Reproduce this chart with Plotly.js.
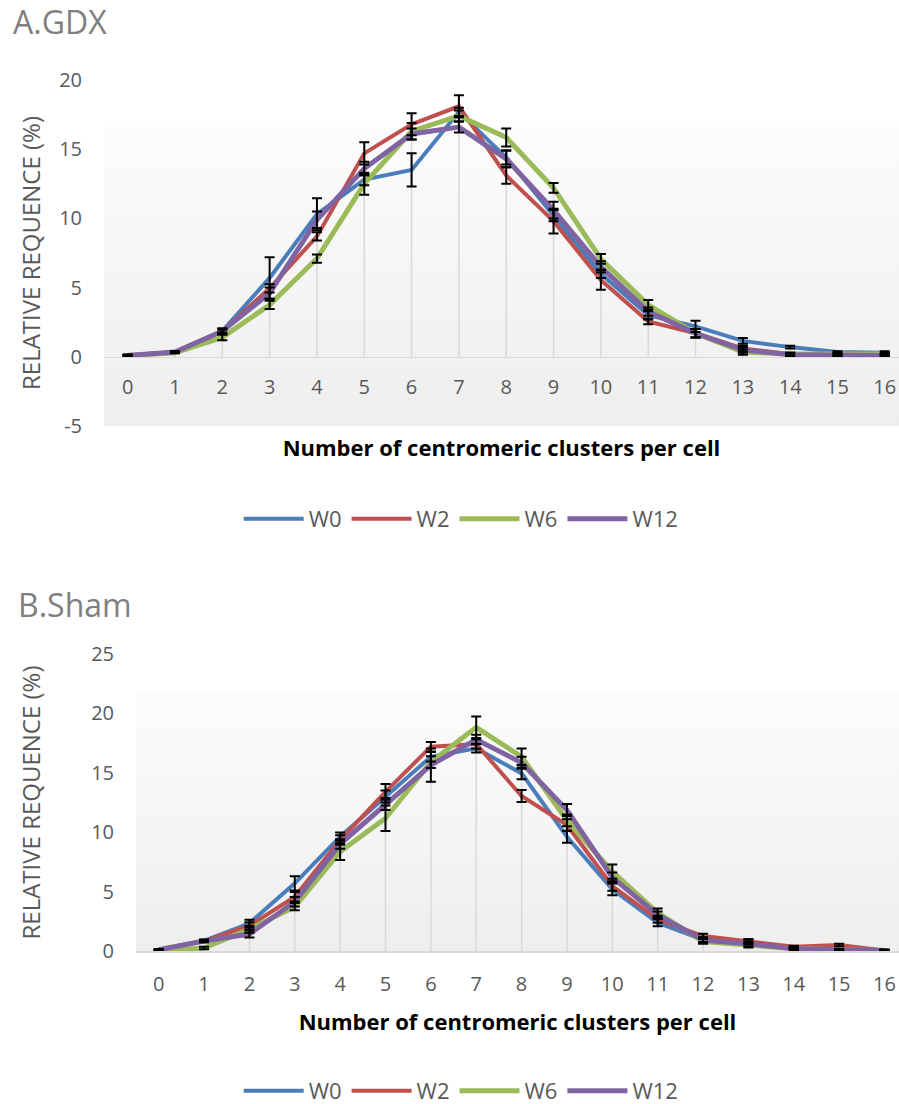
<!DOCTYPE html>
<html>
<head>
<meta charset="utf-8">
<script src="https://cdn.plot.ly/plotly-3.0.1.min.js"></script>
<style>
html,body{margin:0;padding:0;background:#fff;}
#a,#b{width:899px;height:552px;}
</style>
</head>
<body>
<div id="a"></div>
<div id="b"></div>
<script>
// ---------- data ----------
const categories = [0,1,2,3,4,5,6,7,8,9,10,11,12,13,14,15,16];
const seriesNames = ["W0","W2","W6","W12"];
const gdxYTicks  = [-5,0,5,10,15,20];
const gdxYLabels = ["-5","0","5","10","15","20"];
const shamYTicks  = [0,5,10,15,20,25];
const shamYLabels = ["0","5","10","15","20","25"];

// A.GDX
const gdxW0  = [0.1,0.35,1.85,5.7,10.3,12.8,13.5,17.7,14.4,10.2,6.0,3.0,2.2,1.15,0.7,0.35,0.3];
const gdxW2  = [0.1,0.35,1.85,4.95,8.7,14.7,16.8,18.1,13.1,9.8,5.55,2.55,1.7,0.6,0.2,0.1,0.1];
const gdxW6  = [0.1,0.3,1.4,3.75,7.1,12.5,16.3,17.4,15.85,12.2,7.07,3.75,1.7,0.35,0.2,0.2,0.2];
const gdxW12 = [0.1,0.35,1.85,4.6,9.9,13.6,16.1,16.6,14.3,10.6,6.5,3.27,1.7,0.5,0.15,0.1,0.1];
const gdxErrW0  = [0.05,0.05,0.2,1.5,1.15,0.4,1.2,0.3,0.5,0.4,0.3,0.3,0.4,0.2,0.1,0.05,0.1];
const gdxErrW2  = [0.05,0.05,0.1,0.3,0.3,0.8,0.8,0.8,0.6,0.9,0.7,0.2,0.3,0.2,0.1,0.05,0.05];
const gdxErrW6  = [0.05,0.05,0.2,0.3,0.3,0.8,0.6,0.4,0.65,0.35,0.35,0.35,0.3,0.2,0.1,0.05,0.1];
const gdxErrW12 = [0.05,0.05,0.2,0.4,0.6,0.5,0.4,0.4,0.6,0.6,0.4,0.3,0.3,0.2,0.1,0.05,0.05];

// B.Sham
const shamW0  = [0.1,0.85,2.33,5.7,9.62,13.0,16.35,17.06,14.95,9.62,5.19,2.38,0.95,0.78,0.25,0.1,0.05];
const shamW2  = [0.1,0.84,2.13,4.57,9.34,13.4,17.2,17.42,13.05,10.6,5.47,2.67,1.26,0.78,0.35,0.5,0.05];
const shamW6  = [0.0,0.25,1.83,3.73,8.36,11.17,15.9,18.83,16.35,11.0,6.68,3.22,0.8,0.5,0.2,0.1,0.05];
const shamW12 = [0.1,0.84,1.43,4.15,9.0,12.37,15.65,17.8,15.85,11.87,6.2,3.03,0.93,0.6,0.2,0.1,0.05];
const shamErrW0  = [0.05,0.1,0.3,0.6,0.35,0.5,0.4,0.36,0.5,0.5,0.5,0.3,0.2,0.2,0.1,0.05,0.05];
const shamErrW2  = [0.05,0.1,0.3,0.4,0.4,0.66,0.4,0.4,0.5,0.5,0.4,0.3,0.2,0.2,0.1,0.1,0.05];
const shamErrW6  = [0.05,0.1,0.3,0.3,0.7,1.07,0.5,0.9,0.7,0.5,0.6,0.35,0.2,0.2,0.1,0.05,0.05];
const shamErrW12 = [0.05,0.1,0.3,0.4,0.4,0.5,1.4,0.4,0.5,0.5,0.4,0.3,0.2,0.2,0.1,0.05,0.05];

// ---------- style ----------
const colors = ["#4a7ebb","#c0504d","#9bbb59","#8064a2"];
const widths = [4,4,5,5];
const FONT = "Open Sans, Liberation Sans, sans-serif";

const gradSvg = '<svg xmlns="http://www.w3.org/2000/svg" width="10" height="100" preserveAspectRatio="none">' +
  '<defs><linearGradient id="g" x1="0" y1="0" x2="0" y2="1">' +
  '<stop offset="0" stop-color="#ffffff"/><stop offset="0.135" stop-color="#ffffff"/>' +
  '<stop offset="0.136" stop-color="#fcfcfc"/><stop offset="1" stop-color="#eeeeee"/>' +
  '</linearGradient></defs><rect width="10" height="100" fill="url(#g)"/></svg>';
const gradSrc = 'data:image/svg+xml;charset=utf-8,' + encodeURIComponent(gradSvg);

function buildTraces(series, errs) {
  const traces = [];
  // drop lines from the highest point of each category down to the axis
  const dx = [], dy = [];
  categories.forEach((c, i) => {
    const m = Math.max(...series.map(s => s[i]));
    dx.push(c, c, null); dy.push(0, m, null);
  });
  traces.push({x: dx, y: dy, mode: 'lines', line: {color: '#d9d9d9', width: 1.5},
    showlegend: false, hoverinfo: 'skip'});
  series.forEach((s, k) => {
    traces.push({x: categories, y: s, name: seriesNames[k], mode: 'lines',
      line: {color: colors[k], width: widths[k]}});
  });
  series.forEach((s, k) => {
    traces.push({x: categories, y: s, mode: 'markers', marker: {size: 1, opacity: 0},
      showlegend: false, hoverinfo: 'skip',
      error_y: {type: 'data', array: errs[k], visible: true, color: '#000000', thickness: 2, width: 5}});
  });
  return traces;
}

function baseLayout(o) {
  return {
    width: 899, height: 552,
    paper_bgcolor: '#ffffff', plot_bgcolor: 'rgba(0,0,0,0)',
    font: {family: FONT, color: '#595959', size: 20},
    margin: o.margin,
    title: {text: o.title, x: o.titleX, xref: 'container', xanchor: 'left',
      y: o.titleY, yref: 'container', yanchor: 'middle',
      font: {family: FONT, size: 32, color: '#7f7f7f'}},
    showlegend: true,
    legend: {orientation: 'h', xref: 'container', yref: 'container',
      x: 0.513, xanchor: 'center', y: o.legendY, yanchor: 'middle',
      font: {family: FONT, size: 22, color: '#595959'}, itemwidth: 60,
      traceorder: 'normal', bgcolor: 'rgba(0,0,0,0)'},
    xaxis: Object.assign({
      range: o.xrange, tickmode: 'array', tickvals: categories,
      ticktext: categories.map(String), showgrid: false, zeroline: false,
      showline: true, linecolor: '#d9d9d9', linewidth: 1.5, ticks: '',
      tickfont: {family: FONT, size: 20, color: '#595959'},
      ticklabelstandoff: o.xStandoff,
      title: {text: 'Number of centromeric clusters per cell', standoff: o.xTitleStandoff,
        font: {family: FONT, size: 22, color: '#000000', weight: 'bold'}}
    }, o.xExtra || {}),
    yaxis: {
      range: o.yrange, tickmode: 'array', tickvals: o.yTicks, ticktext: o.yLabels,
      showgrid: false, zeroline: false,
      showline: false, ticks: '', ticklabelstandoff: 21,
      tickfont: {family: FONT, size: 20, color: '#595959'},
      title: {text: 'RELATIVE REQUENCE (%)', standoff: o.yTitleStandoff,
        font: {family: FONT, size: 24, color: '#595959'}}
    },
    images: [{source: gradSrc, xref: 'paper', yref: 'paper', x: 0, y: 1,
      sizex: 1, sizey: 1, sizing: 'stretch', layer: 'below', xanchor: 'left', yanchor: 'top'}]
  };
}

const layoutA = baseLayout({
  margin: {l: 104, r: 0, t: 80, b: 126},
  title: 'A.GDX', titleX: 13/899, titleY: 1 - 23/552,
  legendY: 1 - 519/552,
  xrange: [-0.5, 16.3], yrange: [-5, 20],
  yTicks: gdxYTicks, yLabels: gdxYLabels, yTitleStandoff: 11,
  xStandoff: 12, xTitleStandoff: 41,
  xExtra: {anchor: 'free', position: 0.2}
});
const layoutB = baseLayout({
  margin: {l: 136, r: 0, t: 102, b: 153},
  title: 'B.Sham', titleX: 18/899, titleY: 1 - 54/552,
  legendY: 1 - 539/552,
  xrange: [-0.5, 16.32], yrange: [0, 25],
  yTicks: shamYTicks, yLabels: shamYLabels, yTitleStandoff: 43,
  xStandoff: 14, xTitleStandoff: 19
});

const cfg = {displayModeBar: false, staticPlot: true};
Plotly.newPlot('a', buildTraces([gdxW0, gdxW2, gdxW6, gdxW12], [gdxErrW0, gdxErrW2, gdxErrW6, gdxErrW12]), layoutA, cfg);
Plotly.newPlot('b', buildTraces([shamW0, shamW2, shamW6, shamW12], [shamErrW0, shamErrW2, shamErrW6, shamErrW12]), layoutB, cfg);
</script>
</body>
</html>
